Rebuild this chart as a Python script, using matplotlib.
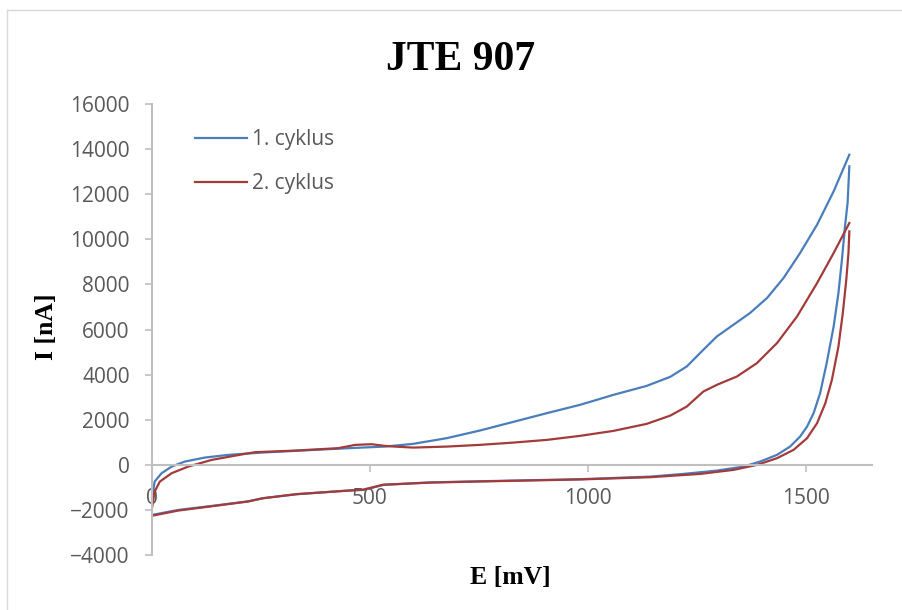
import matplotlib
matplotlib.use('Agg')
import matplotlib.pyplot as plt
from matplotlib.lines import Line2D

# ===== Data (E in mV, I in nA) =====
# 1. cyklus - forward scan (0 -> 1600 mV)
e1_fwd = [0, 6, 22, 45, 75, 121, 175, 251, 328, 404, 481, 534, 599, 676, 752, 829,
          906, 982, 1059, 1135, 1189, 1227, 1265, 1296, 1334, 1372, 1411, 1449,
          1487, 1526, 1564, 1600]
i1_fwd = [-1560, -745, -373, -80, 142, 320, 440, 541, 617, 692, 763, 808, 928, 1180,
          1518, 1904, 2290, 2659, 3103, 3500, 3900, 4360, 5100, 5690, 6210, 6729,
          7394, 8282, 9392, 10648, 12126, 13750]
# 1. cyklus - reverse scan (1600 -> 0 mV)
e1_rev = [1600, 1596, 1590, 1583, 1575, 1564, 1548, 1533, 1518, 1503, 1487, 1464,
          1434, 1395, 1357, 1296, 1219, 1143, 982, 752, 638, 531, 485, 447, 332,
          255, 220, 137, 60, 0]
i1_rev = [13236, 11611, 10572, 9094, 7616, 6134, 4510, 3178, 2290, 1695, 1252, 808,
          440, 142, -80, -257, -404, -524, -639, -730, -780, -892, -1114, -1145,
          -1305, -1483, -1620, -1824, -2002, -2224]

# 2. cyklus - forward scan
e2_fwd = [0, 6, 18, 45, 83, 137, 213, 236, 328, 427, 466, 504, 534, 557, 599, 676,
          752, 829, 906, 982, 1059, 1135, 1189, 1227, 1265, 1296, 1342, 1388, 1434,
          1480, 1526, 1564, 1600]
i2_fwd = [-1926, -1189, -745, -373, -80, 217, 484, 559, 630, 737, 883, 914, 839, 808,
          763, 808, 883, 985, 1105, 1283, 1505, 1815, 2180, 2583, 3249, 3546, 3915,
          4510, 5397, 6578, 8060, 9392, 10723]
# 2. cyklus - reverse scan
e2_rev = [1600, 1598, 1593, 1585, 1575, 1560, 1545, 1526, 1503, 1472, 1434, 1388,
          1334, 1258, 1143, 982, 752, 638, 531, 485, 447, 332, 255, 220, 137, 60, 0]
i2_rev = [10351, 9392, 8207, 6729, 5246, 3768, 2734, 1846, 1181, 661, 293, -4, -226,
          -404, -550, -650, -740, -790, -880, -1100, -1150, -1300, -1480, -1630,
          -1840, -2030, -2260]

labels = ['1. cyklus', '2. cyklus']
x_ticks = [0, 500, 1000, 1500]
y_ticks = list(range(-4000, 16001, 2000))

blue = '#4A7EBB'
red = '#A33B3B'
axis_gray = '#BFBFBF'
text_gray = '#595959'

W, H = 902, 610
fig = plt.figure(figsize=(W / 100, H / 100), dpi=100)
ax = fig.add_axes([152 / W, 1 - 555 / H, (872 - 152) / W, (555 - 104) / H])

ax.plot(e1_fwd, i1_fwd, color=blue, lw=1.6, label=labels[0])
ax.plot(e1_rev, i1_rev, color=blue, lw=1.6)
ax.plot(e2_fwd, i2_fwd, color=red, lw=1.6, label=labels[1])
ax.plot(e2_rev, i2_rev, color=red, lw=1.6)

ax.set_xlim(0, 1652)
ax.set_ylim(-4000, 16000)
ax.set_xticks(x_ticks)
ax.set_yticks(y_ticks)

for s in ['top', 'right']:
    ax.spines[s].set_visible(False)
ax.spines['bottom'].set_position(('data', 0))
for s in ['left', 'bottom']:
    ax.spines[s].set_color(axis_gray)
    ax.spines[s].set_linewidth(1.5)

tick_font = 'Open Sans'
ax.tick_params(axis='both', direction='out', length=5, width=1.2, color=axis_gray,
               labelcolor=text_gray, labelsize=15)
ax.tick_params(axis='y', pad=11)
ax.tick_params(axis='x', pad=12)
for lab in ax.get_xticklabels() + ax.get_yticklabels():
    lab.set_fontfamily(tick_font)

leg = ax.legend(loc='upper left', bbox_to_anchor=(195 / W, 1 - 129 / H),
                bbox_transform=fig.transFigure, frameon=False, borderpad=0,
                borderaxespad=0, handlelength=2.5, handletextpad=0.25,
                labelspacing=1.1, prop={'family': tick_font, 'size': 15})
for t in leg.get_texts():
    t.set_color(text_gray)

# titles (bold serif, as in the original)
serif = 'Liberation Serif'
fig.text(460.4 / W, 1 - 70 / H, 'JTE 907', ha='center', va='baseline',
         fontsize=30, fontweight='bold', family=serif)
fig.text(510.8 / W, 1 - 584 / H, 'E [mV]', ha='center', va='baseline',
         fontsize=18.5, fontweight='bold', family=serif)
fig.text(53.3 / W, 1 - 327 / H, 'I [nA]', ha='center', va='baseline',
         rotation=90, rotation_mode='anchor',
         fontsize=18.5, fontweight='bold', family=serif)

# chart area border (only left and top edges are in frame)
fig.add_artist(Line2D([7.5 / W, 7.5 / W], [0, 1 - 10 / H], color='#D9D9D9', lw=1))
fig.add_artist(Line2D([7.5 / W, 1], [1 - 10 / H, 1 - 10 / H], color='#D9D9D9', lw=1))

fig.savefig('out.png', dpi=100)
